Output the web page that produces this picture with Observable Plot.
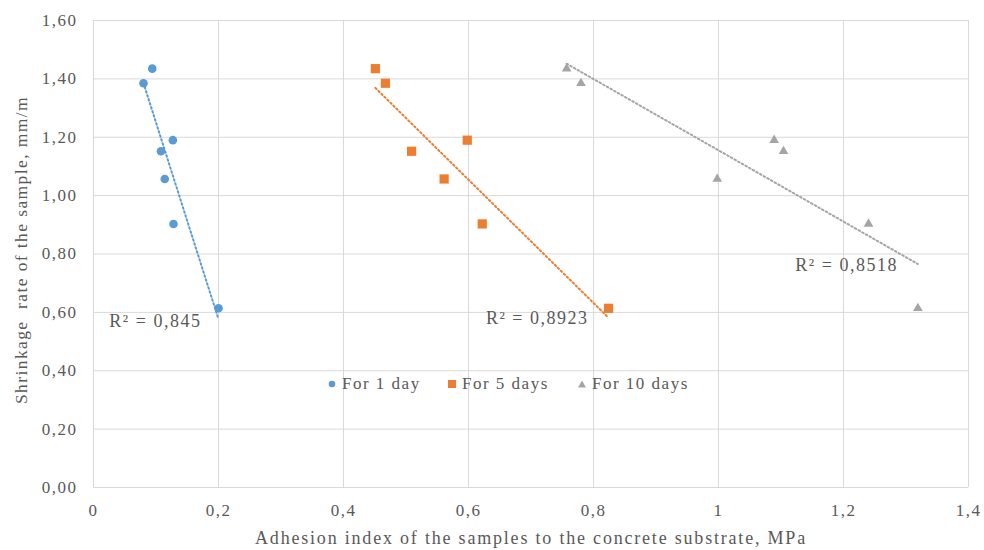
<!DOCTYPE html>
<html><head><meta charset="utf-8">
<script src="https://cdn.jsdelivr.net/npm/d3@7"></script>
<script src="https://cdn.jsdelivr.net/npm/@observablehq/plot@0.6"></script>
<style>
body{margin:0;background:#fff;}
#wrap{position:relative;width:984px;height:550px;}
#wrap svg, #wrap svg text{font-family:"Liberation Serif","Times New Roman",serif !important;letter-spacing:1.5px;}
#wrap svg text.ttl{letter-spacing:1.8px;}
#wrap svg text.ttly{letter-spacing:1.4px;}
.lg{position:absolute;top:373px;height:22px;display:flex;align-items:center;font-family:"Liberation Serif","Times New Roman",serif;font-size:17px;color:#595959;letter-spacing:1.5px;white-space:nowrap;}
.lg svg{margin-right:5px;}
</style></head><body><div id="wrap"></div>
<script>
// Data
const yValues = [1.435, 1.385, 1.19, 1.152, 1.057, 0.903, 0.614];
const x1day   = [0.094, 0.080, 0.127, 0.108, 0.114, 0.128, 0.200];
const x5days  = [0.451, 0.467, 0.598, 0.509, 0.561, 0.622, 0.824];
const x10days = [0.757, 0.780, 1.089, 1.104, 0.998, 1.240, 1.319];
const seriesNames = ["For 1 day", "For 5 days", "For 10 days"];
const r2Labels = ["R² = 0,845", "R² = 0,8923", "R² = 0,8518"];
const r2X = [0.099, 0.71, 1.205];
const r2Y = [0.568, 0.581, 0.7625];
const xTicks = [0, 0.2, 0.4, 0.6, 0.8, 1, 1.2, 1.4];
const yTicks = [0, 0.2, 0.4, 0.6, 0.8, 1.0, 1.2, 1.4, 1.6];
const xTitle = "Adhesion index of the samples to the concrete substrate, MPa";
const yTitle = "Shrinkage  rate of the sample, mm/m";

const colors = ["#5B9BD5", "#ED7D31", "#A5A5A5"];
const symbols = ["circle", "square", "triangle"];
const radii = [4.3, 5.2, 3.6];
const xsAll = [x1day, x5days, x10days];

const rows = xsAll.map((xs, s) => xs.map((x, i) => ({series: seriesNames[s], x, y: yValues[i]})));
const labels = r2Labels.map((t, i) => ({t, x: r2X[i], y: r2Y[i]}));

const fmtX = d => String(+d.toFixed(1)).replace(".", ",");
const fmtY = d => d.toFixed(2).replace(".", ",");

const plot = Plot.plot({
  width: 984, height: 550,
  marginLeft: 93, marginRight: 16, marginTop: 20, marginBottom: 63,
  style: {fontFamily: "'Liberation Serif','Times New Roman',serif", fontSize: "17px", color: "#595959", background: "#fff"},
  x: {domain: [0, 1.4], ticks: xTicks, tickFormat: fmtX, tickSize: 0, tickPadding: 16, label: null},
  y: {domain: [0, 1.6], ticks: yTicks, tickFormat: fmtY, tickSize: 0, tickPadding: 16, label: null},
  marks: [
    Plot.ruleX(xTicks, {stroke: "#d9d9d9", strokeWidth: 1}),
    Plot.ruleY(yTicks, {stroke: "#d9d9d9", strokeWidth: 1}),
    ...rows.map((r, s) => Plot.linearRegressionY(r, {x: "x", y: "y", ci: 0, stroke: colors[s], strokeWidth: 2, strokeDasharray: "1.6,2.6"})),
    ...rows.map((r, s) => Plot.dot(r, {x: "x", y: "y", symbol: symbols[s], r: radii[s], fill: colors[s], stroke: "none"})),
    Plot.text(labels, {x: "x", y: "y", text: "t", fill: "#595959", fontSize: 18}),
    Plot.text([xTitle], {frameAnchor: "bottom", textAnchor: "middle", lineAnchor: "middle", dy: 51, fontSize: 18, className: "ttl"}),
    Plot.text([yTitle], {frameAnchor: "left", textAnchor: "middle", lineAnchor: "middle", rotate: -90, dx: -72, dy: -4, fontSize: 17.5, className: "ttly"})
  ]
});
const wrap = document.getElementById("wrap");
wrap.appendChild(plot);
plot.querySelectorAll("g").forEach(g => {
  const c = g.getAttribute("class") || "";
  if (c.includes("ttly")) g.querySelectorAll("text").forEach(t => t.classList.add("ttly"));
  else if (c.includes("ttl")) g.querySelectorAll("text").forEach(t => t.classList.add("ttl"));
});

// Legend
const lgLeft = [327, 447, 577];
const markerSvg = [
  c => `<svg width="10" height="10"><circle cx="5" cy="5" r="3.3" fill="${c}"/></svg>`,
  c => `<svg width="10" height="10"><rect x="1" y="1" width="8" height="8" fill="${c}"/></svg>`,
  c => `<svg width="10" height="10"><path d="M5,1.5 L9,8.5 L1,8.5 Z" fill="${c}"/></svg>`
];
seriesNames.forEach((n, i) => {
  const d = document.createElement("div");
  d.className = "lg";
  d.style.left = lgLeft[i] + "px";
  d.innerHTML = markerSvg[i](colors[i]) + `<span>${n}</span>`;
  wrap.appendChild(d);
});
</script>
</body></html>
